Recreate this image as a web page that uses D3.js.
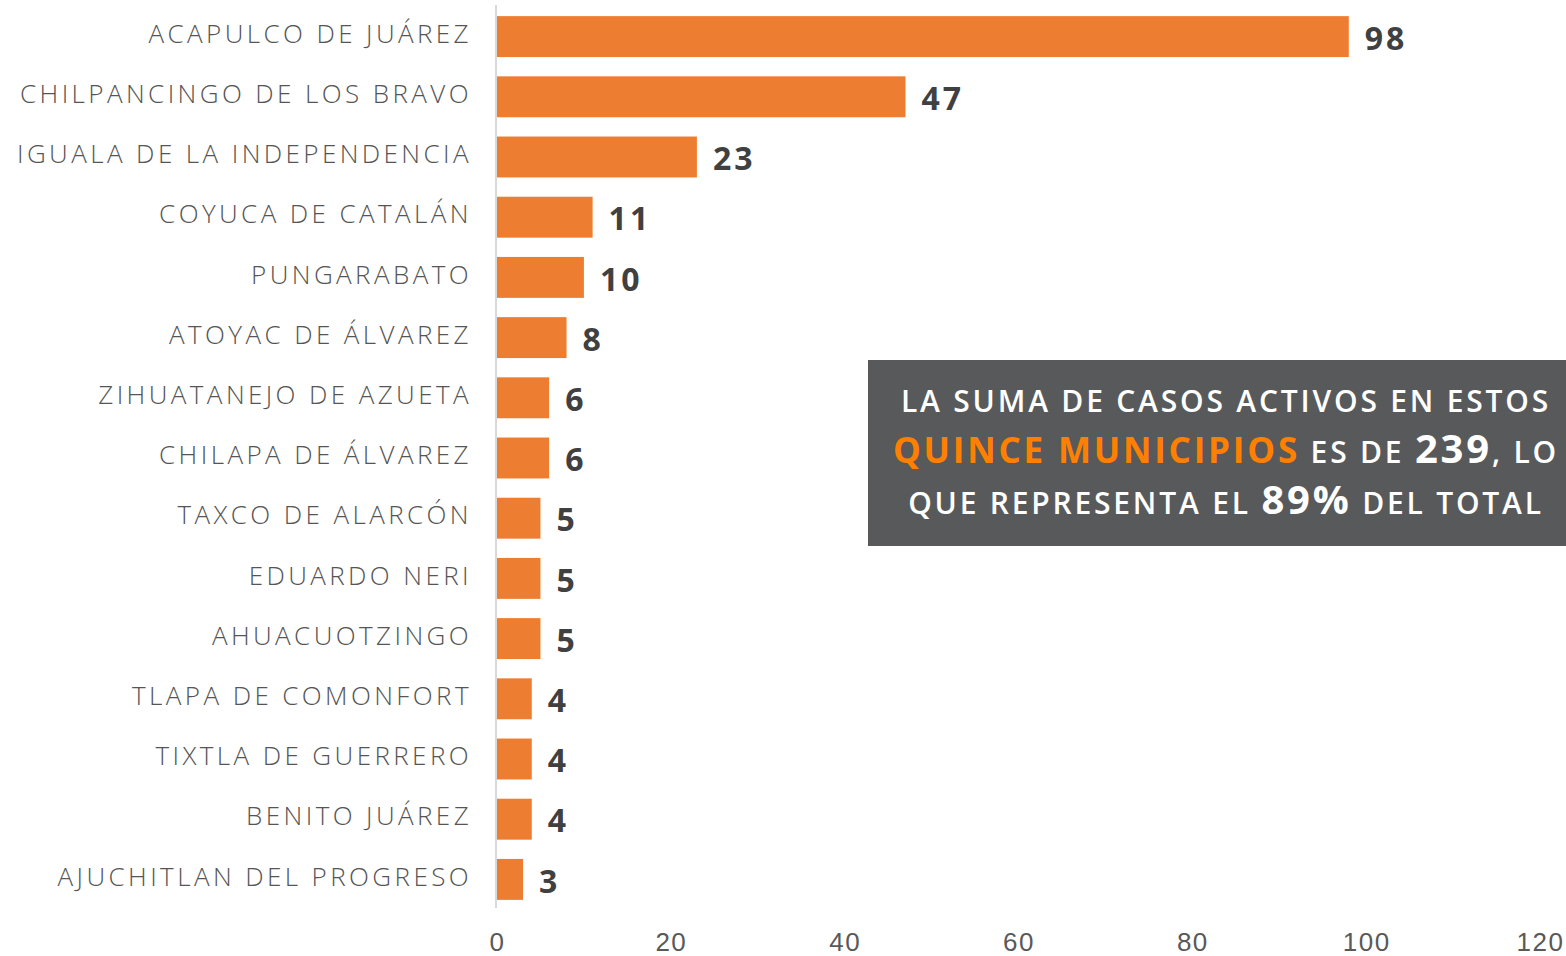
<!DOCTYPE html>
<html>
<head>
<meta charset="utf-8">
<script src="https://cdn.jsdelivr.net/npm/d3@7"></script>
<style>
  body { margin: 0; background: #fff; }
  svg { display: block; font-family: "Open Sans", "Noto Sans", sans-serif; }
  .label { fill: #555; font-weight: 300; font-size: 26px; letter-spacing: 3.4px; }
  .value { fill: #404040; font-weight: 700; font-size: 32px; letter-spacing: 3px; }
  .tick text { fill: #595959; font-weight: 300; font-size: 26px; letter-spacing: 1.5px; }
  .note { fill: #fff; font-weight: 600; letter-spacing: 2.8px; }
</style>
</head>
<body>
<svg id="chart" width="1566" height="956"></svg>
<script>
// municipios con casos activos
const municipios = [
  'ACAPULCO DE JUÁREZ', 'CHILPANCINGO DE LOS BRAVO', 'IGUALA DE LA INDEPENDENCIA',
  'COYUCA DE CATALÁN', 'PUNGARABATO', 'ATOYAC DE ÁLVAREZ', 'ZIHUATANEJO DE AZUETA',
  'CHILAPA DE ÁLVAREZ', 'TAXCO DE ALARCÓN', 'EDUARDO NERI', 'AHUACUOTZINGO',
  'TLAPA DE COMONFORT', 'TIXTLA DE GUERRERO', 'BENITO JUÁREZ', 'AJUCHITLAN DEL PROGRESO'
];
const casos = [98, 47, 23, 11, 10, 8, 6, 6, 5, 5, 5, 4, 4, 4, 3];
const xTicks = [0, 20, 40, 60, 80, 100, 120];

const data = municipios.map((m, i) => ({name: m, value: casos[i]}));

const svg = d3.select('#chart');
const x = d3.scaleLinear().domain([0, 120]).range([497, 1540]);
const y = d3.scaleBand().domain(municipios).range([6.5, 909.5])
  .paddingInner(0.32).paddingOuter(0.16);

// eje vertical
svg.append('line')
  .attr('x1', x(0) - 1).attr('x2', x(0) - 1)
  .attr('y1', 5).attr('y2', 908)
  .attr('stroke', '#d9d9d9').attr('stroke-width', 2);

// eje x (solo etiquetas)
const xAxis = d3.axisBottom(x).tickValues(xTicks).tickSize(0).tickPadding(0);
svg.append('g')
  .attr('transform', 'translate(0, 933)')
  .call(xAxis)
  .call(g => g.select('.domain').remove())
  .selectAll('text').attr('dy', '0.71em');

svg.selectAll('rect.bar')
  .data(data)
  .enter()
  .append('rect')
  .attr('class', 'bar')
  .attr('x', x(0))
  .attr('y', d => y(d.name))
  .attr('width', d => x(d.value) - x(0))
  .attr('height', y.bandwidth())
  .attr('fill', '#ed7d31');

svg.selectAll('text.label')
  .data(data)
  .enter()
  .append('text')
  .attr('class', 'label')
  .attr('x', 472)
  .attr('y', d => y(d.name) + y.bandwidth() / 2 - 3)
  .attr('dy', '0.35em')
  .attr('text-anchor', 'end')
  .text(d => d.name);

svg.selectAll('text.value')
  .data(data)
  .enter()
  .append('text')
  .attr('class', 'value')
  .attr('x', d => x(d.value) + 16)
  .attr('y', d => y(d.name) + y.bandwidth() / 2 + 2)
  .attr('dy', '0.35em')
  .text(d => d.value);

// recuadro de nota
svg.append('rect')
  .attr('x', 868).attr('y', 360)
  .attr('width', 698).attr('height', 186)
  .attr('fill', '#58595b');

const note = svg.append('g').attr('class', 'note').attr('text-anchor', 'middle');
note.append('text').attr('x', 1226).attr('y', 412).attr('font-size', 30)
  .text('LA SUMA DE CASOS ACTIVOS EN ESTOS');
const l2 = note.append('text').attr('x', 1226).attr('y', 463).attr('font-size', 30);
l2.append('tspan').attr('fill', '#ff8000').attr('font-size', 35).attr('font-weight', 700).text('QUINCE MUNICIPIOS');
l2.append('tspan').text(' ES DE ');
l2.append('tspan').attr('font-size', 40).attr('font-weight', 700).text('239');
l2.append('tspan').text(', LO');
const l3 = note.append('text').attr('x', 1226).attr('y', 514).attr('font-size', 30);
l3.append('tspan').text('QUE REPRESENTA EL ');
l3.append('tspan').attr('font-size', 40).attr('font-weight', 700).text('89%');
l3.append('tspan').text(' DEL TOTAL');
</script>
</body>
</html>
